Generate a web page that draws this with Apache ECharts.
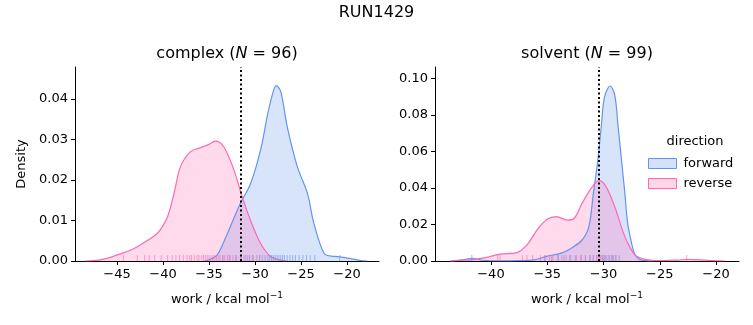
<!DOCTYPE html>
<html>
<head>
<meta charset="utf-8">
<script src="https://cdn.jsdelivr.net/npm/echarts@6/dist/echarts.min.js"></script>
<style>html,body{margin:0;padding:0;background:#fff}#c{width:753px;height:325px}</style>
</head>
<body>
<div id="c"></div>
<script>
// ---- data ----
const complexForwardX = [-35.5, -34.8, -34.1, -33.0, -31.6, -30.5, -29.4, -28.6, -28.0, -27.7, -27.2, -26.5, -25.4, -24.3, -23.6, -22.5, -21.7, -21.0, -19.9, -18.5, -17.8];
const complexForwardY = [0, 0.0005, 0.0015, 0.0068, 0.0142, 0.019, 0.0274, 0.0365, 0.042, 0.0433, 0.0418, 0.0332, 0.0233, 0.0167, 0.0093, 0.0019, 0.0012, 0.0011, 0.0007, 0.0001, 0];
const complexReverseX = [-48.5, -47.0, -46.0, -45.0, -43.5, -42.1, -40.8, -40.3, -39.5, -38.8, -38.1, -37.0, -35.9, -35.0, -34.3, -33.4, -32.3, -31.4, -30.5, -29.4, -28.3, -27.2, -26.5];
const complexReverseY = [0, 0.0002, 0.0007, 0.0015, 0.0027, 0.0045, 0.0065, 0.0077, 0.011, 0.0167, 0.0233, 0.027, 0.028, 0.0288, 0.0296, 0.0282, 0.0225, 0.0159, 0.0101, 0.0044, 0.0011, 0.0002, 0];
const solventForwardX = [-43.6, -42.5, -41.7, -40.7, -39.5, -37.5, -36.2, -35.0, -33.8, -32.9, -31.9, -31.3, -30.9, -30.5, -30.2, -29.9, -29.4, -29.0, -28.7, -28.4, -28.1, -27.85, -27.5, -27.25, -26.8, -25.5];
const solventForwardY = [0, 0.0007, 0.0015, 0.0004, 0.0001, 0.0002, 0.0006, 0.0027, 0.0042, 0.0069, 0.0115, 0.0188, 0.037, 0.0553, 0.0735, 0.090, 0.0958, 0.0909, 0.0735, 0.0553, 0.037, 0.0206, 0.0097, 0.0042, 0.0009, 0];
const solventReverseX = [-43.6, -41.5, -40.1, -39.2, -37.7, -36.8, -35.9, -35.0, -34.2, -33.2, -32.6, -31.9, -31.1, -30.4, -29.8, -29.0, -28.1, -27.2, -26.3, -24.9, -23.5, -22.5, -20.7, -19.2];
const solventReverseY = [0, 0.0009, 0.0024, 0.0038, 0.0046, 0.0088, 0.017, 0.0228, 0.0243, 0.0224, 0.0234, 0.0316, 0.0398, 0.044, 0.041, 0.0297, 0.0133, 0.0033, 0.0009, 0.0002, 0.0005, 0.0009, 0.0003, 0];

const complexForwardRug = [-33.5, -32.8, -32.1, -31.5, -31.0, -30.6, -30.2, -29.8, -29.5, -29.2, -28.9, -28.6, -28.4, -28.2, -28.0, -27.8, -27.6, -27.4, -27.2, -27.0, -26.8, -26.5, -26.2, -25.9, -25.6, -25.2, -24.8, -24.4, -24.0, -23.5, -20.8];
const complexReverseRug = [-44.3, -42.8, -42.0, -41.5, -40.9, -40.2, -39.5, -39.0, -38.6, -38.2, -37.8, -37.4, -37.1, -36.9, -36.6, -36.3, -36.1, -35.8, -35.6, -35.4, -35.2, -35.0, -34.8, -34.6, -34.4, -34.2, -34.0, -33.8, -33.5, -33.3, -33.0, -32.7, -32.4, -32.0, -31.6, -31.2, -30.8, -30.3, -29.5];
const solventForwardRug = [-41.7, -35.2, -34.6, -34.0, -33.5, -33.0, -32.5, -32.0, -31.6, -31.2, -30.9, -30.6, -30.3, -30.1, -29.9, -29.7, -29.5, -29.3, -29.1, -28.9, -28.6];
const solventReverseRug = [-39.4, -39.2, -37.2, -36.8, -36.3, -35.6, -35.2, -34.8, -34.5, -34.1, -33.7, -33.3, -32.9, -32.4, -32.0, -31.6, -31.2, -30.9, -30.6, -30.4, -30.2, -30.0, -29.8, -29.5, -29.2, -28.9, -22.6];

const complexMarker = -31.56;
const solventMarker = -30.4;

const complexXTicks = [-45, -40, -35, -30, -25, -20];
const complexYTicks = [0, 0.01, 0.02, 0.03, 0.04];
const solventXTicks = [-40, -35, -30, -25, -20];
const solventYTicks = [0, 0.02, 0.04, 0.06, 0.08, 0.10];

// ---- build ----
const BLUE = '#6495ED', PINK = '#FF69B4';
const FONT = 'DejaVu Sans';
const zip = (xs, ys) => xs.map((x, i) => [x, ys[i]]);
const minus = v => String(v).replace('-', '\u2212');

function xAxis(gi, min, max, ticks) {
  return {
    type: 'value', gridIndex: gi, min, max,
    name: 'work / kcal mol{sup|\u22121}', nameLocation: 'middle', nameGap: 30,
    nameTextStyle: { fontFamily: FONT, fontSize: 13, color: '#000',
      rich: { sup: { fontFamily: FONT, fontSize: 9, color: '#000', verticalAlign: 'top', padding: [0, 0, 8, 0] } } },
    splitLine: { show: false },
    axisLine: { show: true, onZero: false, lineStyle: { color: '#000', width: 1 } },
    axisTick: { show: true, length: 4, lineStyle: { color: '#000' }, customValues: ticks },
    axisLabel: { customValues: ticks, formatter: minus, fontFamily: FONT, fontSize: 13, color: '#000', margin: 7 }
  };
}
function yAxis(gi, max, ticks, name) {
  return {
    type: 'value', gridIndex: gi, min: 0, max,
    name: name, nameLocation: 'middle', nameGap: 47, nameRotate: 90,
    nameTextStyle: { fontFamily: FONT, fontSize: 13, color: '#000' },
    splitLine: { show: false },
    axisLine: { show: true, lineStyle: { color: '#000', width: 1 } },
    axisTick: { show: true, length: 4, lineStyle: { color: '#000' }, customValues: ticks },
    axisLabel: { customValues: ticks, formatter: v => v.toFixed(2), fontFamily: FONT, fontSize: 13, color: '#000', margin: 7 }
  };
}
function kde(name, gi, xs, ys, color, marker) {
  const s = {
    name, type: 'line', xAxisIndex: gi, yAxisIndex: gi, data: zip(xs, ys),
    smooth: 0.35, symbol: 'none', lineStyle: { color, width: 1.2 },
    itemStyle: { color }, areaStyle: { color, opacity: 0.25 }, z: 2
  };
  if (marker !== undefined) {
    s.markLine = { silent: true, symbol: 'none', label: { show: false },
      lineStyle: { color: '#000', type: [2, 2.5], width: 2 }, data: [{ xAxis: marker }], z: 5 };
  }
  return s;
}
function rug(name, gi, xs, color) {
  return {
    name, type: 'custom', xAxisIndex: gi, yAxisIndex: gi, data: xs.map(x => [x, 0]),
    encode: { x: 0, y: 1 }, z: 3, silent: true,
    renderItem: (params, api) => {
      const p = api.coord([api.value(0), 0]);
      return { type: 'line', shape: { x1: p[0], y1: p[1], x2: p[0], y2: p[1] - 6 },
        style: { stroke: color, lineWidth: 1, opacity: 0.6 } };
    }
  };
}

const chart = echarts.init(document.getElementById('c'), null, { renderer: 'canvas' });
chart.setOption({
  animation: false,
  backgroundColor: '#fff',
  grid: [
    { left: 75, top: 67, width: 304, height: 194 },
    { left: 435, top: 67, width: 304, height: 194 }
  ],
  xAxis: [xAxis(0, -49.57, -16.52, complexXTicks), xAxis(1, -44.97, -17.96, solventXTicks)],
  yAxis: [yAxis(0, 0.0479, complexYTicks, 'Density'), yAxis(1, 0.1062, solventYTicks, '')],
  legend: {
    orient: 'vertical', left: 643, top: 152, itemWidth: 28, itemHeight: 10, itemGap: 7,
    icon: 'rect', selectedMode: false,
    textStyle: { fontFamily: FONT, fontSize: 13, color: '#000', padding: [0, 0, 0, 2] },
    data: [
      { name: 'forward', itemStyle: { color: 'rgba(100,149,237,0.28)', borderColor: BLUE, borderWidth: 1 } },
      { name: 'reverse', itemStyle: { color: 'rgba(255,105,180,0.28)', borderColor: PINK, borderWidth: 1 } }
    ]
  },
  graphic: [
    { type: 'text', left: 'center', top: 5, style: { text: 'RUN1429', fontFamily: FONT, fontSize: 16, fill: '#000' } },
    { type: 'text', x: 227, y: 54, style: { text: 'complex ({i|N} = 96)', fontFamily: FONT, fontSize: 16, fill: '#000', align: 'center', verticalAlign: 'middle',
      rich: { i: { fontFamily: FONT, fontStyle: 'italic', fontSize: 16, fill: '#000' } } } },
    { type: 'text', x: 587, y: 54, style: { text: 'solvent ({i|N} = 99)', fontFamily: FONT, fontSize: 16, fill: '#000', align: 'center', verticalAlign: 'middle',
      rich: { i: { fontFamily: FONT, fontStyle: 'italic', fontSize: 16, fill: '#000' } } } },
    { type: 'text', x: 695, y: 142, style: { text: 'direction', fontFamily: FONT, fontSize: 13, fill: '#000', align: 'center', verticalAlign: 'middle' } }
  ],
  series: [
    kde('forward', 0, complexForwardX, complexForwardY, BLUE, complexMarker),
    kde('reverse', 0, complexReverseX, complexReverseY, PINK),
    kde('forward', 1, solventForwardX, solventForwardY, BLUE, solventMarker),
    kde('reverse', 1, solventReverseX, solventReverseY, PINK),
    rug('rugCF', 0, complexForwardRug, BLUE),
    rug('rugCR', 0, complexReverseRug, PINK),
    rug('rugSF', 1, solventForwardRug, BLUE),
    rug('rugSR', 1, solventReverseRug, PINK)
  ]
});
</script>
</body>
</html>
